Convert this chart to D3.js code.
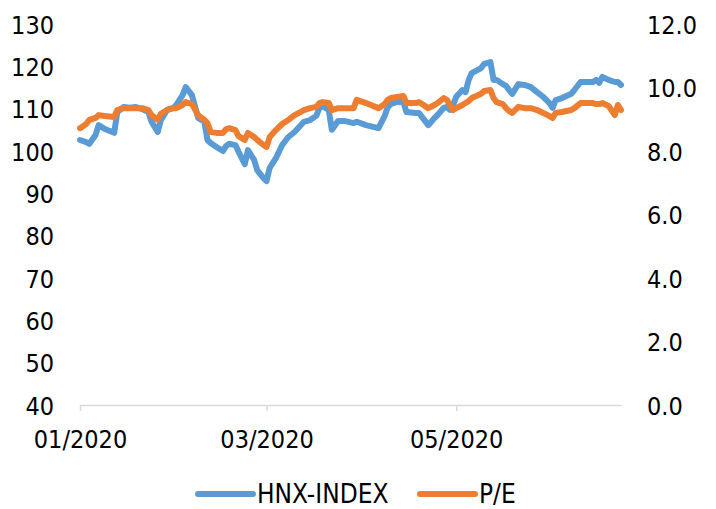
<!DOCTYPE html>
<html>
<head>
<meta charset="utf-8">
<script src="https://cdn.jsdelivr.net/npm/d3@7"></script>
<style>
  html, body { margin: 0; padding: 0; background: #fff; }
  svg text { font-family: "DejaVu Sans Condensed", "Liberation Sans", Arial, sans-serif; font-size: 25px; fill: #000; }
  svg .legend text { font-size: 26px; }
</style>
</head>
<body>
<svg id="chart" width="716" height="509"></svg>
<script>
const dates = ["2020-01-02","2020-01-04","2020-01-05","2020-01-07","2020-01-08","2020-01-10","2020-01-13","2020-01-14","2020-01-16","2020-01-18",
"2020-01-20","2020-01-22","2020-01-24","2020-01-25","2020-01-27","2020-01-28","2020-01-30","2020-02-01","2020-02-02","2020-02-04",
"2020-02-05","2020-02-07","2020-02-09","2020-02-11","2020-02-12","2020-02-13","2020-02-15","2020-02-17","2020-02-18","2020-02-19",
"2020-02-21","2020-02-22","2020-02-24","2020-02-25","2020-02-27","2020-02-28","2020-03-01","2020-03-02","2020-03-03","2020-03-05",
"2020-03-07","2020-03-09","2020-03-11","2020-03-13","2020-03-14","2020-03-16","2020-03-18","2020-03-19","2020-03-20","2020-03-22",
"2020-03-23","2020-03-25","2020-03-27","2020-03-30","2020-03-31","2020-04-03","2020-04-07","2020-04-09","2020-04-10","2020-04-11",
"2020-04-13","2020-04-15","2020-04-16","2020-04-19","2020-04-20","2020-04-23","2020-04-25","2020-04-26","2020-04-28","2020-04-29",
"2020-04-30","2020-05-01","2020-05-02","2020-05-04","2020-05-05","2020-05-06","2020-05-07","2020-05-10","2020-05-11","2020-05-13",
"2020-05-14","2020-05-15","2020-05-17","2020-05-18","2020-05-19","2020-05-20","2020-05-22","2020-05-24","2020-05-26","2020-05-28",
"2020-05-30","2020-06-01","2020-06-02","2020-06-03","2020-06-05","2020-06-08","2020-06-09","2020-06-11","2020-06-13","2020-06-15",
"2020-06-16","2020-06-17","2020-06-18","2020-06-20","2020-06-22","2020-06-23","2020-06-24"];

const hnxIndex = [102.6,102.1,101.7,103.8,106.1,105.2,104.3,109.2,110.4,110.2,
110.4,109.9,109.2,106.9,104.5,107.3,109.7,110.2,110.9,113.2,
115.1,113.2,107.8,106.9,102.6,101.9,100.9,100.0,101.2,101.7,
101.4,99.8,96.9,100.2,97.9,95.5,93.6,92.9,96.0,98.3,
101.4,103.3,104.5,106.1,106.9,107.3,108.3,110.2,110.6,109.7,
105.0,107.1,107.1,106.6,106.9,106.1,105.4,108.3,110.4,111.1,
111.6,111.6,109.2,109.0,109.0,106.1,107.8,108.5,110.2,110.4,
109.7,110.9,112.8,114.4,113.9,116.8,118.4,119.6,120.6,121.0,
116.8,116.8,115.8,115.4,114.4,113.5,115.8,115.6,115.1,113.9,
112.8,111.3,110.2,112.0,112.5,113.5,114.4,116.3,116.3,116.3,
116.8,116.1,117.5,116.8,116.3,116.3,115.6];

const peRatio = [8.72,8.85,8.98,9.04,9.13,9.10,9.07,9.29,9.35,9.35,
9.35,9.35,9.29,9.13,8.98,9.17,9.29,9.35,9.35,9.45,
9.54,9.48,9.13,8.98,8.88,8.60,8.57,8.57,8.69,8.72,
8.66,8.47,8.35,8.57,8.44,8.35,8.19,8.13,8.44,8.66,
8.85,8.98,9.13,9.23,9.29,9.35,9.39,9.51,9.54,9.51,
9.29,9.35,9.35,9.35,9.61,9.51,9.35,9.48,9.61,9.67,
9.70,9.73,9.51,9.51,9.54,9.35,9.45,9.51,9.67,9.61,
9.45,9.29,9.35,9.45,9.51,9.57,9.67,9.80,9.89,9.92,
9.67,9.54,9.48,9.35,9.26,9.20,9.39,9.35,9.35,9.29,
9.20,9.10,9.04,9.20,9.23,9.29,9.35,9.51,9.51,9.51,
9.48,9.48,9.51,9.42,9.13,9.45,9.29];

const leftTicks = [40,50,60,70,80,90,100,110,120,130];
const rightTicks = [0,2,4,6,8,10,12];
const xTickDates = ["2020-01-02","2020-03-02","2020-05-02"];
const seriesNames = ["HNX-INDEX","P/E"];
const seriesColors = ["#5B9BD5","#ED7D31"];

const parse = d3.timeParse("%Y-%m-%d");
const data = dates.map((d,i) => ({date: parse(d), hnx: hnxIndex[i], pe: peRatio[i]}));

const svg = d3.select("#chart");
const plot = {left: 80, right: 621, top: 24, bottom: 405};

const x = d3.scaleTime().domain(d3.extent(data, d => d.date)).range([plot.left, plot.right]);
const yL = d3.scaleLinear().domain([40,130]).range([plot.bottom, plot.top]);
const yR = d3.scaleLinear().domain([0,12]).range([plot.bottom, plot.top]);

// x axis
const xAxis = d3.axisBottom(x)
  .tickValues(xTickDates.map(parse))
  .tickFormat(d3.timeFormat("%m/%Y"))
  .tickSize(6).tickSizeOuter(0);
const gx = svg.append("g").attr("transform", `translate(0,${plot.bottom})`).call(xAxis);
gx.select(".domain").attr("stroke", "#d9d9d9").attr("stroke-width", 1.5);
gx.selectAll(".tick line").attr("stroke", "#d9d9d9").attr("stroke-width", 1.5);
gx.selectAll(".tick text").attr("y", 43).attr("dy", 0).attr("font-size", null).attr("font-family", null);

// left axis
const gl = svg.append("g").attr("transform", `translate(${plot.left},0)`)
  .call(d3.axisLeft(yL).tickValues(leftTicks).tickSize(0).tickPadding(26));
gl.select(".domain").remove();
gl.selectAll(".tick text").attr("dy", "0.36em").attr("font-size", null).attr("font-family", null);

// right axis
const gr = svg.append("g").attr("transform", `translate(${plot.right},0)`)
  .call(d3.axisRight(yR).tickValues(rightTicks).tickSize(0).tickPadding(26).tickFormat(d3.format(".1f")));
gr.select(".domain").remove();
gr.selectAll(".tick text").attr("dy", "0.36em").attr("font-size", null).attr("font-family", null);

// lines
const lineHnx = d3.line().x(d => x(d.date)).y(d => yL(d.hnx));
const linePe = d3.line().x(d => x(d.date)).y(d => yR(d.pe));
svg.append("path").datum(data).attr("d", lineHnx)
  .attr("fill", "none").attr("stroke", seriesColors[0]).attr("stroke-width", 6)
  .attr("stroke-linejoin", "round").attr("stroke-linecap", "round");
svg.append("path").datum(data).attr("d", linePe)
  .attr("fill", "none").attr("stroke", seriesColors[1]).attr("stroke-width", 6)
  .attr("stroke-linejoin", "round").attr("stroke-linecap", "round");

// legend
const legendItems = [{x: 198, name: seriesNames[0], color: seriesColors[0]},
                     {x: 420, name: seriesNames[1], color: seriesColors[1]}];
const lg = svg.append("g").attr("class", "legend");
legendItems.forEach(it => {
  lg.append("line").attr("x1", it.x).attr("x2", it.x + 55).attr("y1", 494).attr("y2", 494)
    .attr("stroke", it.color).attr("stroke-width", 6).attr("stroke-linecap", "round");
  lg.append("text").attr("x", it.x + 59).attr("y", 503).text(it.name);
});
</script>
</body>
</html>
